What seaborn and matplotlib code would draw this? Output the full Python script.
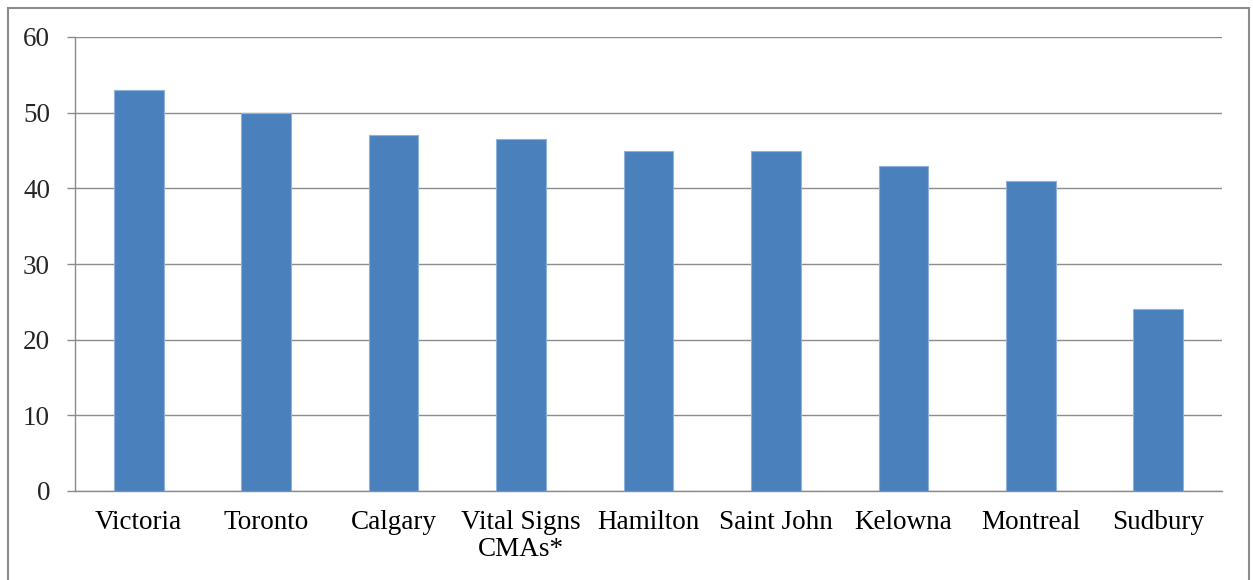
import matplotlib
matplotlib.use("Agg")
from matplotlib import pyplot as plt
from matplotlib.patches import Rectangle
from matplotlib.ticker import MultipleLocator
import seaborn as sns

cities = ["Victoria", "Toronto", "Calgary", "Vital Signs\nCMAs*", "Hamilton",
          "Saint John", "Kelowna", "Montreal", "Sudbury"]
values = [53, 50, 47, 46.5, 45, 45, 43, 41, 24]

sns.set_style("white")
plt.rcParams["font.family"] = ["Liberation Serif", "DejaVu Serif"]

fig = plt.figure(figsize=(12.53, 5.80), dpi=100)
ax = fig.add_axes([75 / 1253, 1 - 491 / 580, (1222 - 75) / 1253, (491 - 37) / 580])

sns.barplot(x=cities, y=values, color="#4a81bd", saturation=1, width=0.39,
            edgecolor="#8fb0d8", linewidth=0.8, ax=ax, zorder=3)

ax.set_ylim(0, 60)
ax.set_xlim(-0.5, len(cities) - 0.5)
ax.yaxis.set_major_locator(MultipleLocator(10))
ax.grid(axis="y", color="#8c8c8c", linewidth=1, zorder=0)
ax.set_axisbelow(True)

for s in ["top", "right"]:
    ax.spines[s].set_visible(False)
for s in ["left", "bottom"]:
    ax.spines[s].set_color("#8c8c8c")
    ax.spines[s].set_linewidth(1)

ax.set_xticks([i - 0.5 for i in range(len(cities) + 1)], minor=True)
ax.tick_params(axis="x", which="major", length=0, pad=14, labelsize=19.5, colors="black")
ax.tick_params(axis="x", which="minor", length=6, color="#8c8c8c", width=1)
ax.tick_params(axis="y", length=6, color="#8c8c8c", width=1, labelsize=19.5, pad=12,
               left=True)
for lbl in ax.get_xticklabels():
    lbl.set_linespacing(1.1)

# outer frame of the chart area
fig.patches.append(Rectangle((8 / 1253, -0.01), 1241 / 1253, 1 - 8 / 580 + 0.01,
                             transform=fig.transFigure, fill=False,
                             edgecolor="#8c8c8c", linewidth=1.5))

fig.savefig("out.png", dpi=100)
